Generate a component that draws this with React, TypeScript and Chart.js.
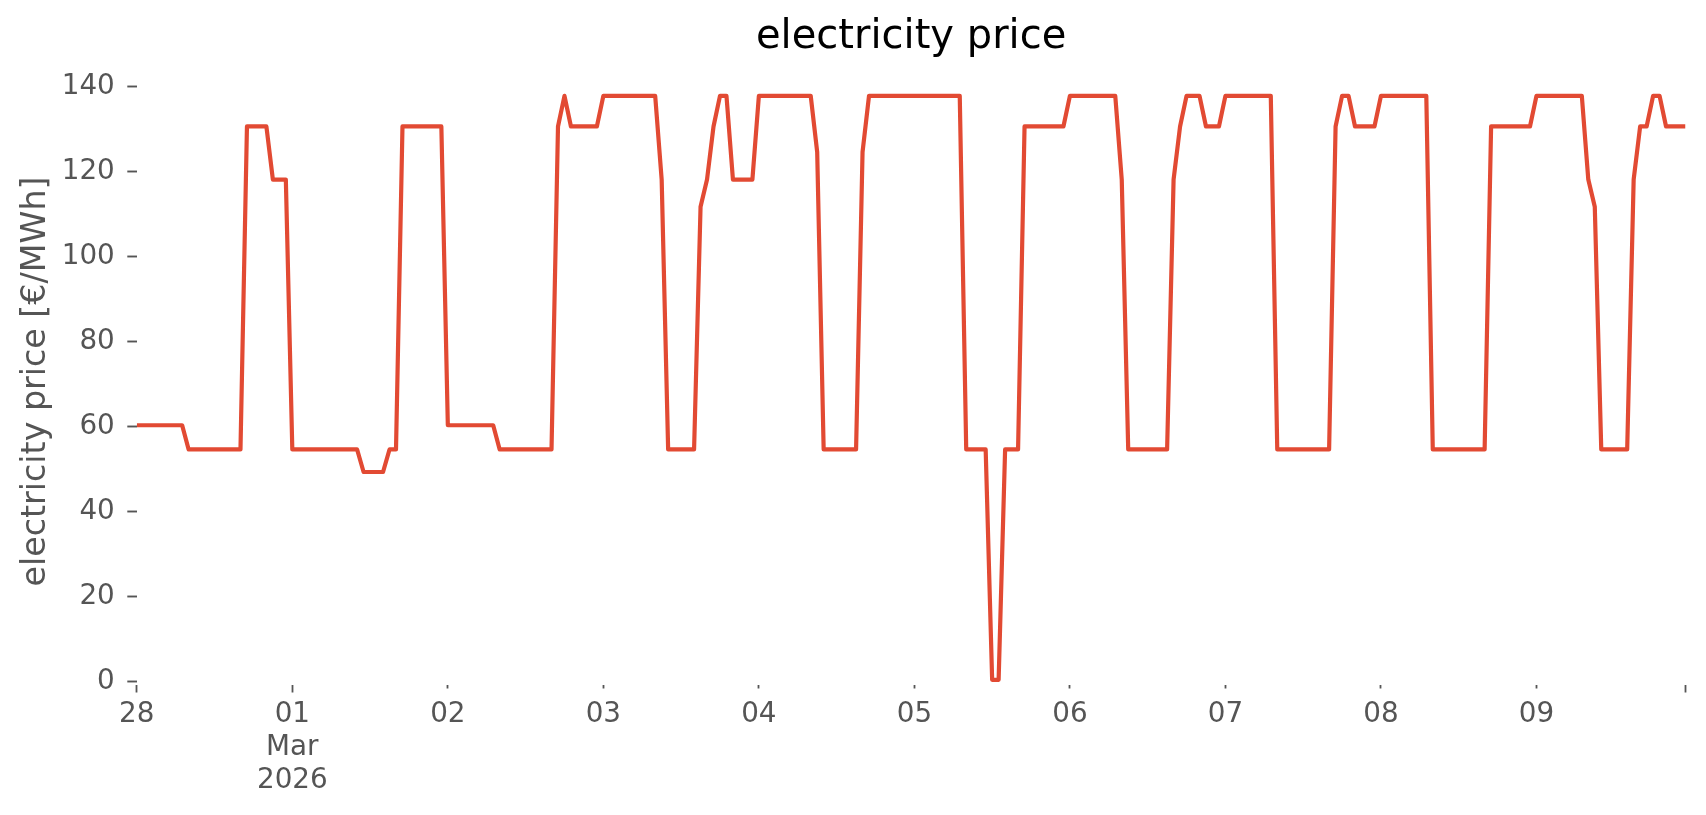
import { useEffect, useRef } from "react";
import { Chart, registerables } from "chart.js";

Chart.register(...registerables);

const TITLE = "electricity price";
const Y_LABEL = "electricity price [€/MWh]";
const DAY_LABELS = ["28", "01", "02", "03", "04", "05", "06", "07", "08", "09"];
const MONTH_LABEL = "Mar";
const YEAR_LABEL = "2026";
const Y_TICKS = [0, 20, 40, 60, 80, 100, 120, 140];

// hourly prices [€/MWh], one array per day (00:00 … 23:00)
const feb28 = [
  60.3, 60.3, 60.3, 60.3, 60.3, 60.3, 60.3, 60.3,
  54.6, 54.6, 54.6, 54.6, 54.6, 54.6, 54.6, 54.6, 54.6,
  130.6, 130.6, 130.6, 130.6,
  118.1, 118.1, 118.1,
];
const mar01 = [
  54.6, 54.6, 54.6, 54.6, 54.6, 54.6, 54.6, 54.6, 54.6, 54.6, 54.6,
  49.3, 49.3, 49.3, 49.3,
  54.6, 54.6,
  130.6, 130.6, 130.6, 130.6, 130.6, 130.6, 130.6,
];
const mar02 = [
  60.3, 60.3, 60.3, 60.3, 60.3, 60.3, 60.3, 60.3,
  54.6, 54.6, 54.6, 54.6, 54.6, 54.6, 54.6, 54.6, 54.6,
  130.6, 137.8,
  130.6, 130.6, 130.6, 130.6, 130.6,
];
const mar03 = [
  137.8, 137.8, 137.8, 137.8, 137.8, 137.8, 137.8, 137.8, 137.8,
  118.1,
  54.6, 54.6, 54.6, 54.6, 54.6,
  111.7, 118.1, 130.6, 137.8, 137.8,
  118.1, 118.1, 118.1, 118.1,
];
const mar04 = [
  137.8, 137.8, 137.8, 137.8, 137.8, 137.8, 137.8, 137.8, 137.8,
  124.6,
  54.6, 54.6, 54.6, 54.6, 54.6, 54.6,
  124.6,
  137.8, 137.8, 137.8, 137.8, 137.8, 137.8, 137.8,
];
const mar05 = [
  137.8, 137.8, 137.8, 137.8, 137.8, 137.8, 137.8, 137.8,
  54.6, 54.6, 54.6, 54.6,
  0.4, 0.4,
  54.6, 54.6, 54.6,
  130.6, 130.6, 130.6, 130.6, 130.6, 130.6, 130.6,
];
const mar06 = [
  137.8, 137.8, 137.8, 137.8, 137.8, 137.8, 137.8, 137.8,
  118.1,
  54.6, 54.6, 54.6, 54.6, 54.6, 54.6, 54.6,
  118.1, 130.6,
  137.8, 137.8, 137.8,
  130.6, 130.6, 130.6,
];
const mar07 = [
  137.8, 137.8, 137.8, 137.8, 137.8, 137.8, 137.8, 137.8,
  54.6, 54.6, 54.6, 54.6, 54.6, 54.6, 54.6, 54.6, 54.6,
  130.6, 137.8, 137.8,
  130.6, 130.6, 130.6, 130.6,
];
const mar08 = [
  137.8, 137.8, 137.8, 137.8, 137.8, 137.8, 137.8, 137.8,
  54.6, 54.6, 54.6, 54.6, 54.6, 54.6, 54.6, 54.6, 54.6,
  130.6, 130.6, 130.6, 130.6, 130.6, 130.6, 130.6,
];
const mar09 = [
  137.8, 137.8, 137.8, 137.8, 137.8, 137.8, 137.8, 137.8,
  118.1, 111.7,
  54.6, 54.6, 54.6, 54.6, 54.6,
  118.1, 130.6, 130.6, 137.8, 137.8,
  130.6, 130.6, 130.6, 130.6,
];

const FONT = "'DejaVu Sans', 'Liberation Sans', sans-serif";
const GREY = "#555555";
const LINE_COLOR = "#E24A33";

export default function App() {
  const ref = useRef<HTMLCanvasElement | null>(null);

  useEffect(() => {
    document.body.style.margin = "0";
    const days = [feb28, mar01, mar02, mar03, mar04, mar05, mar06, mar07, mar08, mar09];
    const values = days.flat();
    const points = values.map((v, i) => ({ x: i, y: v }));
    const lastHour = values.length - 1;
    const dayTicks = DAY_LABELS.map((_, d) => d * 24);
    const xTicks = [...dayTicks, lastHour];
    const majorTicks = new Set([0, 24, lastHour]);

    const chart = new Chart(ref.current as HTMLCanvasElement, {
      type: "line",
      data: {
        datasets: [
          {
            data: points,
            borderColor: LINE_COLOR,
            backgroundColor: LINE_COLOR,
            borderWidth: 4.2,
            pointRadius: 0,
            tension: 0,
            fill: false,
            borderJoinStyle: "round",
            borderCapStyle: "butt",
          },
        ],
      },
      options: {
        animation: false,
        responsive: false,
        devicePixelRatio: 1,
        layout: { padding: { left: 0, right: 20.5, top: 0, bottom: 0 } },
        plugins: {
          legend: { display: false },
          tooltip: { enabled: false },
          title: {
            display: true,
            text: TITLE,
            fullSize: false,
            color: "#000000",
            font: { family: FONT, size: 40, weight: "normal", lineHeight: 1.2 },
            padding: { top: 14, bottom: 16 },
          },
        },
        scales: {
          x: {
            type: "linear",
            min: 0,
            max: lastHour,
            afterBuildTicks: (s: any) => {
              s.ticks = xTicks.map((v) => ({ value: v }));
            },
            afterFit: (s: any) => {
              s.height = 130;
            },
            grid: {
              drawOnChartArea: false,
              drawTicks: true,
              tickLength: 7.5,
              tickColor: GREY,
              tickWidth: 1.8,
              tickBorderDash: (c: any) =>
                c.tick && majorTicks.has(c.tick.value) ? [] : [3.5, 100],
            },
            border: { display: false },
            ticks: {
              autoSkip: false,
              maxRotation: 0,
              minRotation: 0,
              color: GREY,
              padding: 6,
              font: { family: FONT, size: 27.8, lineHeight: 1.19 },
              callback: (value: any) => {
                const v = Number(value);
                if (v % 24 !== 0) return "";
                const d = v / 24;
                if (d === 1) return [DAY_LABELS[d], MONTH_LABEL, YEAR_LABEL];
                return DAY_LABELS[d] ?? "";
              },
            },
          },
          y: {
            type: "linear",
            min: -0.82,
            max: 142,
            afterBuildTicks: (s: any) => {
              s.ticks = Y_TICKS.map((v) => ({ value: v }));
            },
            afterFit: (s: any) => {
              s.width = 136.8;
            },
            grid: {
              drawOnChartArea: false,
              drawTicks: true,
              tickLength: 9.5,
              tickColor: GREY,
              tickWidth: 1.9,
            },
            border: { display: false },
            ticks: {
              color: GREY,
              padding: 12.5,
              font: { family: FONT, size: 27.8, lineHeight: 1.17 },
              callback: (value: any) => String(value),
            },
            title: {
              display: true,
              text: Y_LABEL,
              color: GREY,
              font: { family: FONT, size: 33.3, lineHeight: 1.2 },
              padding: { top: 16, bottom: 0 },
            },
          },
        },
      },
    } as any);

    return () => chart.destroy();
  }, []);

  return (
    <div style={{ width: 1706, height: 815 }}>
      <canvas ref={ref} width={1706} height={815} style={{ display: "block" }} />
    </div>
  );
}
